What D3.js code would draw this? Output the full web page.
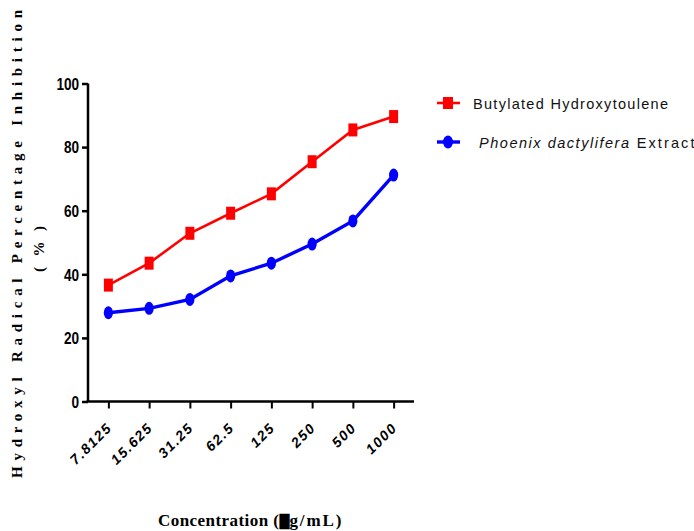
<!DOCTYPE html>
<html><head><meta charset="utf-8">
<script src="https://cdn.jsdelivr.net/npm/d3@7"></script>
<style>body{margin:0;background:#fff}svg{display:block}</style>
</head><body>
<script>
const categories = ["7.8125","15.625","31.25","62.5","125","250","500","1000"];
const bhtValues = [36.6, 43.5, 52.9, 59.2, 65.3, 75.4, 85.4, 89.6];
const pdValues = [27.9, 29.3, 32.1, 39.5, 43.5, 49.5, 56.8, 71.2];
const yTicks = [0, 20, 40, 60, 80, 100];
const seriesNames = ["Butylated Hydroxytoulene", "Phoenix dactylifera", " Extract"];

const W = 694, H = 531;
const svg = d3.select("body").append("svg").attr("width", W).attr("height", H);

const x = d3.scalePoint().domain(categories).range([88, 414]).padding(0.5);
const y = d3.scaleLinear().domain([0, 100]).range([401.5, 83.5]);

// Y axis
const yAxis = svg.append("g").attr("transform", "translate(88,0)")
  .call(d3.axisLeft(y).tickValues(yTicks).tickSize(6).tickPadding(3));
yAxis.select(".domain").attr("stroke-width", 2.5).attr("d", `M0,${y(100)}V${y(0)}`);
yAxis.selectAll(".tick line").attr("stroke-width", 2.5);
yAxis.selectAll(".tick text").attr("font-family", "'Liberation Sans',Arial,sans-serif")
  .attr("font-weight", "bold").attr("font-size", 16).attr("fill", "#000")
  .attr("transform", "scale(0.85,1)").attr("x", -10.5).attr("dy", "0.36em");

// X axis
const xAxis = svg.append("g").attr("transform", `translate(0,${y(0)})`)
  .call(d3.axisBottom(x).tickSize(7).tickSizeOuter(0));
xAxis.select(".domain").attr("stroke-width", 2.5).attr("d", "M86.5,0H414");
xAxis.selectAll(".tick line").attr("stroke-width", 2);
xAxis.selectAll(".tick text")
  .attr("font-family", "'Liberation Sans',Arial,sans-serif").attr("font-weight", "bold")
  .attr("font-style", "italic").attr("font-size", 14).attr("fill", "#000")
  .attr("letter-spacing", "1.6px")
  .attr("text-anchor", "end").attr("dy", null).attr("y", 0)
  .attr("transform", "translate(4,27) rotate(-45)");

// Lines
const line = d3.line().x((d, i) => x(categories[i])).y(d => y(d));
svg.append("path").datum(bhtValues).attr("d", line).attr("fill", "none")
  .attr("stroke", "#ff0000").attr("stroke-width", 2.6);
svg.append("path").datum(pdValues).attr("d", line).attr("fill", "none")
  .attr("stroke", "#0000ff").attr("stroke-width", 3.4);

svg.selectAll(".sq").data(bhtValues).enter().append("rect")
  .attr("x", (d, i) => x(categories[i]) - 4.5).attr("y", d => y(d) - 6.5)
  .attr("width", 9).attr("height", 13).attr("fill", "#ff0000");
svg.selectAll(".ci").data(pdValues).enter().append("ellipse")
  .attr("cx", (d, i) => x(categories[i])).attr("cy", d => y(d))
  .attr("rx", 4.6).attr("ry", 6.5).attr("fill", "#0000ff");

// Legend
const lg = svg.append("g");
lg.append("line").attr("x1", 437).attr("x2", 460).attr("y1", 103).attr("y2", 103)
  .attr("stroke", "#ff0000").attr("stroke-width", 2.6);
lg.append("rect").attr("x", 443).attr("y", 97).attr("width", 10).attr("height", 12).attr("fill", "#ff0000");
lg.append("text").attr("x", 473).attr("y", 108.5).text(seriesNames[0])
  .attr("font-family", "'Liberation Sans',Arial,sans-serif").attr("font-size", 14.5)
  .attr("fill", "#111").attr("textLength", 195).attr("lengthAdjust", "spacing");
lg.append("line").attr("x1", 437).attr("x2", 460).attr("y1", 142).attr("y2", 142)
  .attr("stroke", "#0000ff").attr("stroke-width", 3.4);
lg.append("ellipse").attr("cx", 448).attr("cy", 142).attr("rx", 5).attr("ry", 6.5).attr("fill", "#0000ff");
const t2 = lg.append("text").attr("x", 479).attr("y", 147.5)
  .attr("font-family", "'Liberation Sans',Arial,sans-serif").attr("font-size", 14.5).attr("fill", "#111");
t2.append("tspan").attr("font-style", "italic").attr("textLength", 150).attr("lengthAdjust", "spacing").text(seriesNames[1]);
t2.append("tspan").attr("textLength", 64).attr("lengthAdjust", "spacing").text(seriesNames[2]);

// Y title
svg.append("text").attr("transform", "translate(22,244) rotate(-90)")
  .attr("text-anchor", "middle").attr("font-family", "'Liberation Serif','Times New Roman',serif")
  .attr("font-weight", "bold").attr("font-size", 15).attr("fill", "#000")
  .attr("textLength", 468).attr("lengthAdjust", "spacing")
  .text("Hydroxyl Radical Percentage Inhibition");
svg.append("text").attr("transform", "translate(44,249) rotate(-90)")
  .attr("text-anchor", "middle").attr("font-family", "'Liberation Serif','Times New Roman',serif")
  .attr("font-weight", "bold").attr("font-size", 15).attr("fill", "#000")
  .attr("textLength", 46).attr("lengthAdjust", "spacing")
  .text("(%)");

// X title
const xt = svg.append("text").attr("x", 158).attr("y", 526)
  .attr("font-family", "'Liberation Serif','Times New Roman',serif")
  .attr("font-weight", "bold").attr("font-size", 17).attr("fill", "#000");
xt.append("tspan").attr("textLength", 121).attr("lengthAdjust", "spacing").text("Concentration (");
xt.append("tspan").attr("font-family", "'DejaVu Sans',sans-serif").attr("font-size", 13).text("\u2588");
xt.append("tspan").attr("textLength", 52).attr("lengthAdjust", "spacing").text("g/mL)");
</script>
</body></html>
